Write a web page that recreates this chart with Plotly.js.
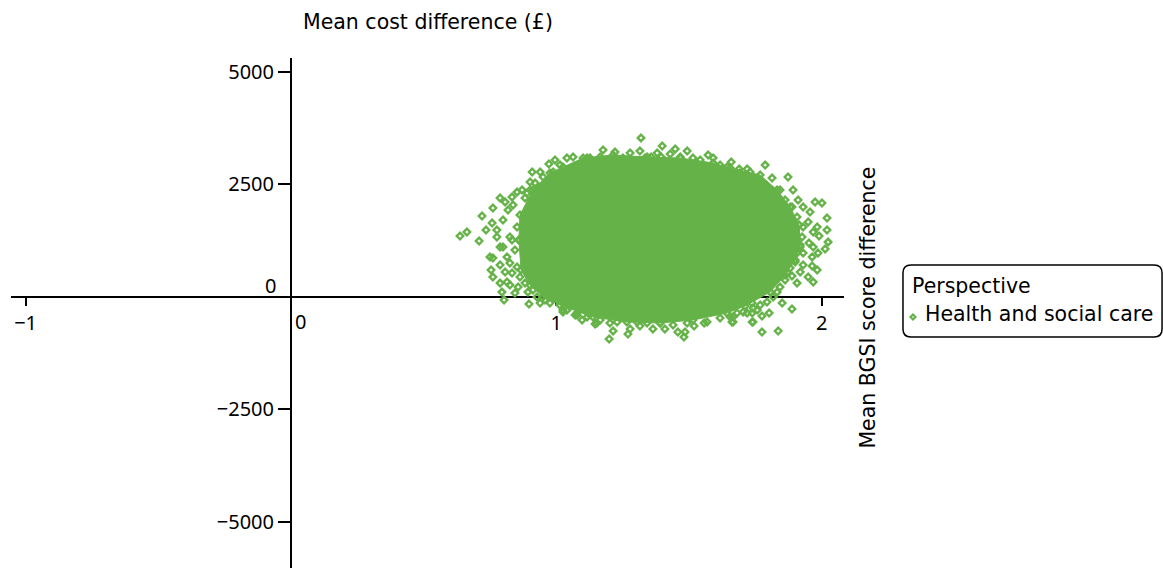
<!DOCTYPE html>
<html>
<head>
<meta charset="utf-8">
<script src="https://cdn.plot.ly/plotly-3.0.1.min.js"></script>
<style>
html,body{margin:0;padding:0;background:#fff;}
#chart{width:1163px;height:568px;}
</style>
</head>
<body>
<div id="chart"></div>
<script>
// Dense core of the bootstrap cloud (outline): BGSI difference, cost difference
const coreX = [0.859,0.863,0.912,0.976,1.101,1.214,1.342,1.467,1.591,1.655,1.768,1.832,1.881,1.915,1.919,1.900,1.862,1.806,1.711,1.643,1.515,1.391,1.266,1.138,1.013,0.950,0.901,0.867,0.859];
const coreY = [1260,1815,2371,2749,3082,3149,3104,3082,2971,2860,2704,2371,1993,1593,1149,815,482,104,-207,-362,-518,-584,-562,-451,-184,-7,260,593,1260];

// Replicates in the dense band just outside the core
const bandX = [0.799,0.818,0.837,0.852,0.833,0.844,0.825,0.852,0.863,0.882,0.912,0.844,0.927,0.957,0.890,0.920,0.950,0.988,1.025,0.776,0.788,0.807,0.814,0.882,0.901,0.995,1.040,1.082,1.127,
 1.165,1.251,1.334,1.380,1.467,1.515,1.542,1.617,1.644,1.681,1.741,1.760,
 1.692,1.730,1.768,1.843,1.862,1.888,1.907,1.930,1.926,1.919,1.907,1.900,1.881,1.870,1.862,1.843,1.832,1.817,1.794,1.768,1.741,1.704,1.681,
 1.040,1.078,1.116,1.165,1.229,1.304,1.342,1.391,1.440,1.493,1.568,1.617,1.666,1.719,1.757,1.738];
const bandY = [1704,1927,2038,1549,1260,1038,749,660,438,304,149,82,-7,-73,2304,2527,2660,2771,2882,1482,1104,549,327,2193,2371,3038,3082,2927,3082,
 3104,3082,3082,3193,3104,3082,3038,2927,2882,2749,2660,2527,
 2749,2771,2527,2371,2149,1993,1771,1549,1327,1104,971,771,638,527,371,216,104,-7,-118,-184,-251,-340,-362,
 -296,-362,-451,-518,-562,-562,-584,-584,-629,-584,-562,-473,-451,-362,-296,-140];

// Scattered replicates round the edge of the cloud
const edgeX = [0.637,0.663,0.720,0.709,0.735,0.761,0.758,0.750,0.761,0.754,0.788,0.788,0.807,0.833,0.852,0.871,0.909,0.901,0.939,0.972,1.014,1.063,1.108,0.795,0.803,0.761,0.788,0.825,0.856,0.893,0.897,0.939,0.976,0.776,0.799,0.825,0.814,0.833,1.025,1.078,1.119,1.153,
 1.319,1.176,1.221,1.278,1.315,1.399,1.448,1.493,1.395,1.357,1.429,1.572,1.591,1.659,1.689,1.719,1.116,
 1.787,1.813,1.873,1.892,1.911,1.930,1.975,2.001,1.956,2.020,1.949,1.983,2.020,1.968,1.990,2.024,1.952,1.968,2.013,1.986,1.930,1.964,1.930,1.964,1.983,1.919,1.949,1.968,1.888,1.907,1.851,1.888,1.802,1.775,1.738,1.655,1.666,1.738,1.775,1.836,
 1.199,1.214,1.270,1.278,1.315,1.364,1.409,1.458,1.485,1.481,1.519,1.557,1.662,1.741,1.097,1.146,1.202,1.071,1.025];
const edgeY = [1349,1438,1793,1238,1482,1971,1638,882,860,593,704,2193,2104,2215,2326,2371,2771,2549,2771,2949,2927,3104,3038,104,-73,438,304,260,216,104,-162,-140,-140,1327,1104,1327,882,527,-296,-407,-362,-584,
 3527,3260,3215,3193,3238,3349,3282,3238,3104,3104,3171,3149,3082,2993,2838,2838,3082,
 2927,2638,2660,2371,2149,1993,2104,2082,1882,1749,1660,1549,1482,1438,1349,1215,1193,1104,1060,971,971,882,704,682,593,549,438,327,460,304,-140,-273,-362,-429,-362,-451,-562,-562,-784,-762,
 -940,-762,-829,-718,-651,-718,-718,-784,-784,-895,-651,-584,-562,-562,-518,-607,-584,-407,-340];

const xTicks = [-1, 1, 2];
const yTicks = [-5000, -2500, 2500, 5000];
const seriesName = 'Health and social care';
const legendTitle = 'Perspective';
const xTitle = 'Mean BGSI score difference';
const yTitle = 'Mean cost difference (£)';

const green = 'rgb(101,179,72)';
const tickFont = {family: 'Noto Sans, sans-serif', size: 20, color: '#000'};
const textFont = {family: 'DejaVu Sans, sans-serif', size: 20.5, color: '#000'};

const marker = {symbol: 'diamond-open', size: 5, color: green, line: {width: 2.4, color: green}};

const traces = [
  {x: coreX, y: coreY, type: 'scatter', mode: 'lines+markers', fill: 'toself', fillcolor: green,
   line: {color: green, width: 1}, marker: marker, name: seriesName, showlegend: false, hoverinfo: 'skip'},
  {x: bandX, y: bandY, type: 'scatter', mode: 'markers', marker: marker, name: seriesName, showlegend: false},
  {x: edgeX, y: edgeY, type: 'scatter', mode: 'markers', marker: marker, name: seriesName, showlegend: false}
];

// legend box geometry (paper units)
const L = {x0: 1.0708, x1: 1.3818, yT: 0.5941, yB: 0.4529, rx: 8/833, ry: 8/510};
const boxPath = `M ${L.x0+L.rx},${L.yT} L ${L.x1-L.rx},${L.yT} Q ${L.x1},${L.yT} ${L.x1},${L.yT-L.ry} L ${L.x1},${L.yB+L.ry} Q ${L.x1},${L.yB} ${L.x1-L.rx},${L.yB} L ${L.x0+L.rx},${L.yB} Q ${L.x0},${L.yB} ${L.x0},${L.yB+L.ry} L ${L.x0},${L.yT-L.ry} Q ${L.x0},${L.yT} ${L.x0+L.rx},${L.yT} Z`;
const sx = 1.0828, sy = 0.4922, dx = 2.5/833, dy = 2.5/510;
const symPath = `M ${sx},${sy+dy} L ${sx+dx},${sy} L ${sx},${sy-dy} L ${sx-dx},${sy} Z`;

const layout = {
  width: 1163, height: 568,
  margin: {l: 11, r: 319, t: 58, b: 0, pad: 0},
  paper_bgcolor: '#fff', plot_bgcolor: '#fff',
  showlegend: false,
  xaxis: {range: [-1.055, 2.084], anchor: 'free', position: 0.5319, showline: true, linecolor: '#000', linewidth: 2,
          showgrid: false, zeroline: false, ticks: 'outside', ticklen: 8, tickwidth: 2, tickcolor: '#000',
          tickvals: xTicks, ticktext: xTicks.map(v => v < 0 ? '\u2212' + Math.abs(v) : String(v)),
          tickfont: tickFont, layer: 'below traces'},
  yaxis: {range: [-6028, 5304], anchor: 'free', position: 0.3361, showline: true, linecolor: '#000', linewidth: 2,
          showgrid: false, zeroline: false, ticks: 'outside', ticklen: 12, tickwidth: 1.8, tickcolor: '#000',
          tickvals: yTicks, ticktext: yTicks.map(v => v < 0 ? '\u2212' + Math.abs(v) : String(v)),
          tickfont: tickFont, layer: 'below traces'},
  shapes: [
    {type: 'path', xref: 'paper', yref: 'paper', path: boxPath, line: {color: '#000', width: 1.5}},
    {type: 'path', xref: 'paper', yref: 'paper', path: symPath, line: {color: green, width: 2.2}}
  ],
  annotations: [
    {xref: 'paper', yref: 'paper', x: 0.5012, y: 1.0706, xanchor: 'center', yanchor: 'middle', text: yTitle, showarrow: false, font: textFont},
    {xref: 'paper', yref: 'paper', x: 1.0288, y: 0.5106, xanchor: 'center', yanchor: 'middle', text: xTitle, textangle: -90, showarrow: false, font: textFont},
    {xref: 'paper', yref: 'paper', x: 1.0792, y: 0.5529, xanchor: 'left', yanchor: 'middle', text: legendTitle, showarrow: false, font: textFont},
    {xref: 'paper', yref: 'paper', x: 1.0948, y: 0.4980, xanchor: 'left', yanchor: 'middle', text: seriesName, showarrow: false, font: textFont},
    {xref: 'x', yref: 'y', x: 0, y: 0, xanchor: 'left', yanchor: 'middle', xshift: 2, yshift: -25, text: '0', showarrow: false, font: tickFont},
    {xref: 'x', yref: 'y', x: 0, y: 0, xanchor: 'right', yanchor: 'middle', xshift: -13, yshift: 11, text: '0', showarrow: false, font: tickFont}
  ]
};

Plotly.newPlot('chart', traces, layout, {displayModeBar: false, staticPlot: true});
</script>
</body>
</html>
